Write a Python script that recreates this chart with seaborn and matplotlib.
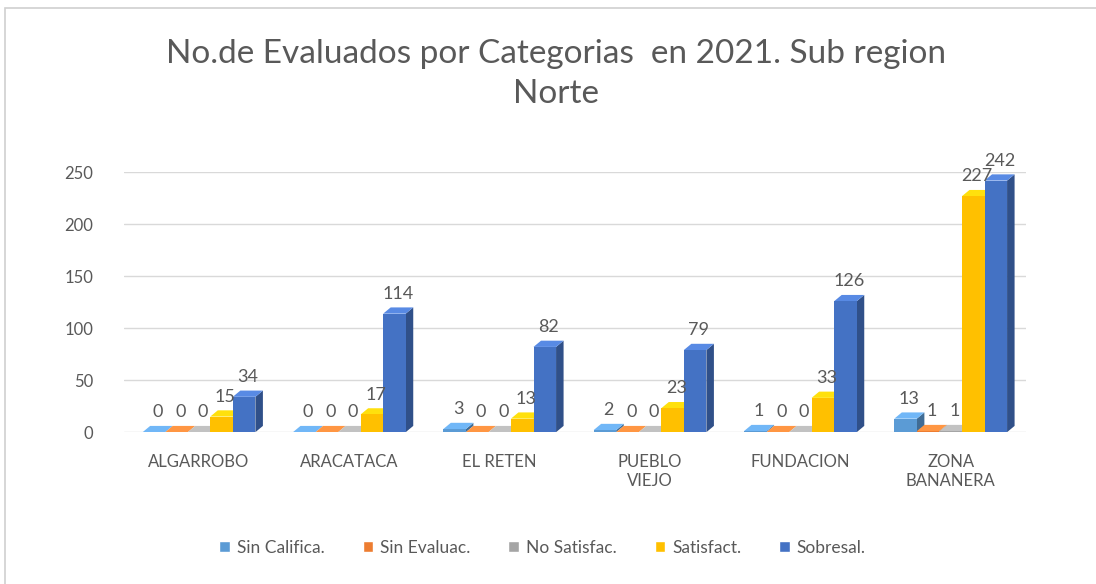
import numpy as np
import pandas as pd
import seaborn as sns
import matplotlib

matplotlib.use('Agg')
import matplotlib.pyplot as plt
import matplotlib.colors as mcolors
from matplotlib.patches import Polygon, Rectangle

# datos del grafico
municipios = ["ALGARROBO", "ARACATACA", "EL RETEN", "PUEBLO\nVIEJO", "FUNDACION", "ZONA\nBANANERA"]
categorias = ["Sin Califica.", "Sin Evaluac.", "No Satisfac.", "Satisfact.", "Sobresal."]
sin_califica = [0, 0, 3, 2, 1, 13]
sin_evaluac = [0, 0, 0, 0, 0, 1]
no_satisfac = [0, 0, 0, 0, 0, 1]
satisfact = [15, 17, 13, 23, 33, 227]
sobresal = [34, 114, 82, 79, 126, 242]
colores = ["#5B9BD5", "#ED7D31", "#A5A5A5", "#FFC000", "#4472C4"]

df = pd.DataFrame({"municipio": municipios,
                   categorias[0]: sin_califica,
                   categorias[1]: sin_evaluac,
                   categorias[2]: no_satisfac,
                   categorias[3]: satisfact,
                   categorias[4]: sobresal})
df = df.melt(id_vars="municipio", var_name="categoria", value_name="valor")

sns.set_theme(style="white")
plt.rcParams['font.family'] = ['Lato', 'DejaVu Sans']
gris = "#595959"

fig = plt.figure(figsize=(10.96, 5.84), dpi=100)
ax = fig.add_axes([0.113, 0.26, 0.823, 0.445])
sns.barplot(data=df, x="municipio", y="valor", hue="categoria", hue_order=categorias,
            palette=colores, width=0.75, gap=0, saturation=1, ax=ax, zorder=3)

# efecto 3D: cara lateral y cara superior a partir de cada barra
dx, dy = 0.05, 6
for j, cont in enumerate(ax.containers):
    base = mcolors.to_rgb(colores[j])
    oscuro = tuple(c * 0.7 for c in base)
    claro = tuple(min(1, c * 1.1 + 0.05) for c in base)
    for p in cont:
        x0, w, h = p.get_x(), p.get_width(), p.get_height()
        p.set_zorder(4 + j)
        p.set_edgecolor("none")
        lado = Polygon([(x0 + w, 0), (x0 + w + dx, dy), (x0 + w + dx, h + dy), (x0 + w, h)],
                       closed=True, facecolor=oscuro, edgecolor="none", zorder=3.9 + j)
        tapa = Polygon([(x0, h), (x0 + dx, h + dy), (x0 + w + dx, h + dy), (x0 + w, h)],
                       closed=True, facecolor=claro, edgecolor="none", zorder=3.9 + j)
        ax.add_patch(lado)
        ax.add_patch(tapa)
        ax.annotate(f"{int(h)}", (x0 + w / 2 + dx / 2, h + dy), xytext=(0, 4),
                    textcoords="offset points", ha="center", va="bottom",
                    fontsize=13, color=gris, zorder=20)

handles, labels = ax.get_legend_handles_labels()
ax.legend_.remove()

ax.set_ylim(0, 250)
ax.set_xlim(-0.5, 5.5)
ax.set_yticks(range(0, 251, 50))
ax.yaxis.grid(True, color="#D9D9D9", linewidth=1)
ax.set_axisbelow(True)
for s in ax.spines.values():
    s.set_visible(False)
ax.tick_params(axis="y", length=0, pad=22, labelsize=12, labelcolor=gris)
ax.tick_params(axis="x", length=0, pad=16, labelsize=12, labelcolor=gris)
ax.set_xlabel("")
ax.set_ylabel("")

fig.legend(handles, labels, loc="center", bbox_to_anchor=(0.495, 0.062), ncol=5,
           frameon=False, fontsize=12.5, labelcolor=gris, handlelength=0.6,
           handleheight=0.6, handletextpad=0.4, columnspacing=2.2)

fig.text(0.507, 1 - 39 / 584, "No.de Evaluados por Categorias  en 2021. Sub region\nNorte",
         ha="center", va="top", fontsize=24, color=gris, linespacing=1.4)

# marco del grafico
fig.patches.append(Rectangle((0.005, -0.01), 1.1, 1 - 0.005 - 5 / 584 + 0.01,
                             transform=fig.transFigure, fill=False,
                             edgecolor="#D0D0D0", linewidth=1.2))

fig.savefig("out.png", dpi=100)
